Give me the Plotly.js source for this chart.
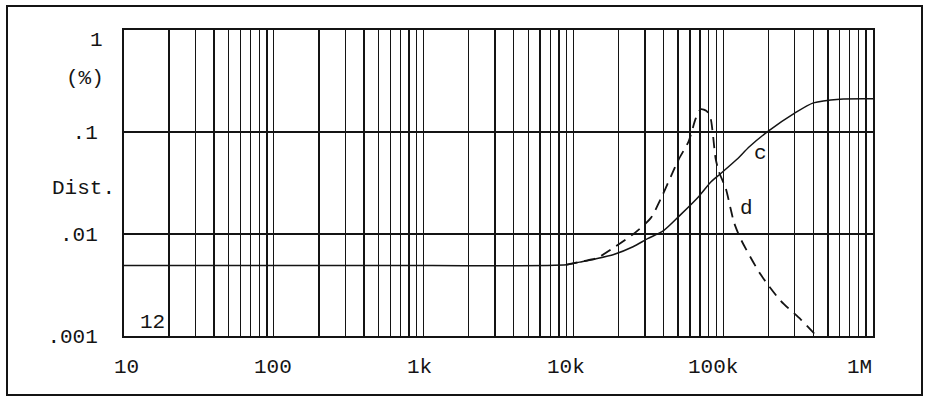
<!DOCTYPE html>
<html>
<head>
<meta charset="utf-8">
<script src="https://cdn.plot.ly/plotly-3.0.1.min.js"></script>
<style>
  html, body { margin: 0; padding: 0; background: #ffffff; }
  #chart { width: 929px; height: 398px; }
</style>
</head>
<body>
<div id="chart"></div>
<script>
// Distortion vs frequency, curves c (solid) and d (dashed)
const freqC = [10, 1000, 9000, 11000, 14000, 18600, 25000, 31300, 40000, 52000, 69000, 83000, 96000, 123000, 150000, 200000, 300000, 400000, 600000, 1000000];
const distC = [0.0049, 0.0049, 0.0050, 0.0053, 0.0057, 0.0063, 0.0075, 0.0090, 0.0108, 0.0155, 0.0235, 0.0325, 0.0390, 0.0537, 0.072, 0.102, 0.153, 0.193, 0.210, 0.212];

const freqD = [9000, 11500, 14300, 19100, 25600, 32800, 38300, 44700, 50500, 58900, 65500, 70800, 77600, 82600, 85000, 89000, 93500, 104000, 112000, 118000, 131000, 178000, 243000, 330000, 420000];
const distD = [0.0050, 0.0054, 0.0058, 0.00755, 0.0102, 0.0143, 0.0221, 0.0366, 0.054, 0.0815, 0.135, 0.167, 0.160, 0.134, 0.100, 0.055, 0.041, 0.028, 0.0178, 0.013, 0.0089, 0.0040, 0.0022, 0.00145, 0.0010];

const xTickVals = [10, 100, 1000, 10000, 100000, 1000000];
const xTickText = ['10', '100', '1k', '10k', '100k', '1M'];
const yTickVals = [0.001, 0.01, 0.1];
const yTickText = ['.001', '.01', '.1'];

// page geometry
const W = 929, H = 398;
const M = { l: 124, r: 56, t: 30, b: 62 };
const plotW = W - M.l - M.r, plotH = H - M.t - M.b;
const px = v => (v - M.l) / plotW;          // pixel column -> paper x
const py = v => (H - M.b - v) / plotH;      // pixel row -> paper y

const INK = '#141414';
const FONT = { family: 'Liberation Mono, Courier New, monospace', size: 21, color: INK };

// vertical grid at 1..9 of every decade
const gridVals = [];
for (let e = 1; e <= 6; e++) {
  for (let m = 1; m <= 9; m++) {
    const v = m * Math.pow(10, e);
    if (v <= 1000000) gridVals.push(v);
  }
}

// frequency labels are typed a little inside the outer decade lines:
// they follow a slightly compressed log scale across the plot width
const LABEL_RANGE = [0.983, 6.090];
const labelX = v => (Math.log10(v) - LABEL_RANGE[0]) / (LABEL_RANGE[1] - LABEL_RANGE[0]);

const traces = [
  {
    x: freqC, y: distC, type: 'scatter', mode: 'lines',
    line: { color: INK, width: 1.5, shape: 'spline', smoothing: 0.7 },
    hoverinfo: 'skip', showlegend: false
  },
  {
    x: freqD, y: distD, type: 'scatter', mode: 'lines',
    line: { color: INK, width: 1.8, dash: '11px,7px', shape: 'spline', smoothing: 0.7 },
    hoverinfo: 'skip', showlegend: false
  }
];

const annotations = [
  { text: '1', x: px(105), y: py(40), xanchor: 'right' },
  { text: '(%)', x: px(106), y: py(78), xanchor: 'right' },
  { text: 'Dist.', x: px(117), y: py(189), xanchor: 'right' },
  { text: '12', x: px(152), y: py(322), xanchor: 'center' },
  { text: 'c', x: px(760), y: py(153), xanchor: 'center' },
  { text: 'd', x: px(746), y: py(209), xanchor: 'center' }
];
xTickVals.forEach((v, i) => {
  annotations.push({ text: xTickText[i], x: labelX(v), y: py(367), xanchor: 'center' });
});
annotations.forEach(a => {
  a.xref = 'paper'; a.yref = 'paper'; a.yanchor = 'middle';
  a.showarrow = false; a.font = FONT;
});

const layout = {
  width: W, height: H,
  margin: { l: M.l, r: M.r, t: M.t, b: M.b, pad: 0 },
  paper_bgcolor: '#ffffff',
  plot_bgcolor: '#ffffff',
  showlegend: false,
  font: FONT,
  xaxis: {
    type: 'log', range: [1, 6],
    tickmode: 'array', tickvals: gridVals, showticklabels: false, ticks: '',
    showgrid: true, gridcolor: INK, gridwidth: 1.4,
    showline: true, linecolor: INK, linewidth: 2, mirror: true,
    zeroline: false, fixedrange: true
  },
  yaxis: {
    type: 'log', range: [-3, 0],
    tickmode: 'array', tickvals: yTickVals, ticktext: yTickText,
    tickfont: FONT, ticks: '', ticklabelstandoff: 20,
    showgrid: true, gridcolor: INK, gridwidth: 1.4,
    showline: true, linecolor: INK, linewidth: 2, mirror: true,
    zeroline: false, fixedrange: true
  },
  shapes: [
    {
      type: 'rect', xref: 'paper', yref: 'paper',
      x0: px(7), x1: px(922), y0: py(395), y1: py(6),
      line: { color: INK, width: 2 }, fillcolor: 'rgba(0,0,0,0)', layer: 'below'
    }
  ],
  annotations: annotations
};

Plotly.newPlot('chart', traces, layout, { staticPlot: true, displayModeBar: false });
</script>
</body>
</html>
